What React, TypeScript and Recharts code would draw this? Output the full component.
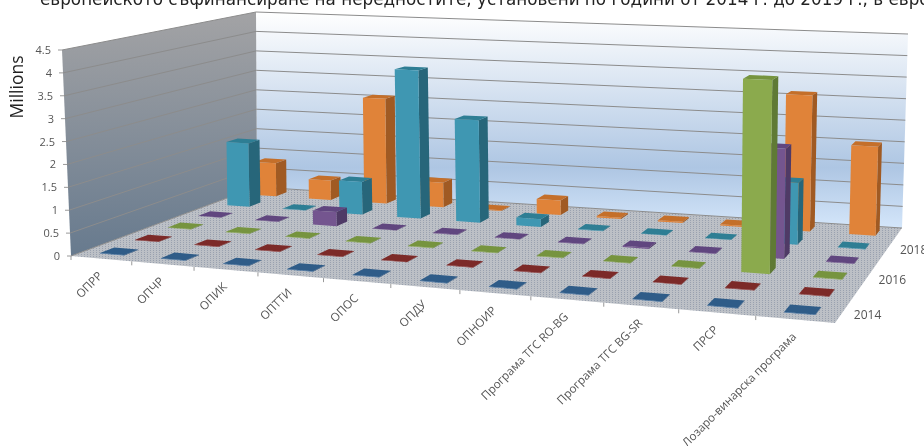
import { Label, Scatter, ScatterChart, XAxis, YAxis } from "recharts"

const WIDTH = 924
const HEIGHT = 446

const categories = [
  "ОПРР",
  "ОПЧР",
  "ОПИК",
  "ОПТТИ",
  "ОПОС",
  "ОПДУ",
  "ОПНОИР",
  "Програма ТГС RO-BG",
  "Програма ТГС BG-SR",
  "ПРСР",
  "Лозаро-винарска програма",
]
const years = [2014, 2016, 2018]
const valueTicks = [0, 0.5, 1, 1.5, 2, 2.5, 3, 3.5, 4, 4.5]

// millions of euro, one list per year (depth row)
const values2014 = [0.01, 0.01, 0.01, 0.01, 0.01, 0.01, 0.01, 0.01, 0.01, 0.01, 0.01]
const values2015 = [0.01, 0.01, 0.01, 0.01, 0.01, 0.01, 0.01, 0.01, 0.01, 0.01, 0.01]
const values2016 = [0.01, 0.01, 0.01, 0.01, 0.01, 0.01, 0.01, 0.01, 0.01, 4.08, 0.01]
const values2017 = [0.01, 0.01, 0.33, 0.01, 0.01, 0.01, 0.01, 0.03, 0.01, 2.39, 0.01]
const values2018 = [1.55, 0.01, 0.78, 3.52, 2.41, 0.18, 0.01, 0.01, 0.01, 1.38, 0.01]
const values2019 = [0.83, 0.48, 2.58, 0.6, 0.02, 0.35, 0.03, 0.03, 0.03, 3.13, 2.03]

const COLORS = {
  blue: ["#376A9E", "#2A5078", "#2F5C88"],
  red: ["#8E2F2D", "#6E2423", "#7C2A28"],
  green: ["#8BAA4D", "#5F7A35", "#76943F"],
  purple: ["#74558F", "#4F3A66", "#60467F"],
  teal: ["#3F97B2", "#27667A", "#2E7E94"],
  orange: ["#E08339", "#A05A23", "#C46F2A"],
}

// plot rectangle used by the library scales
const LEFT = 71
const RIGHT = 835
const TOP = 50
const BOTTOM = 256
const ROWS = 6
const BAR = 0.2
const SPREAD = 1.061

type Pt = [number, number]

// maps the unit square onto a screen quad
function quad(p00: Pt, p10: Pt, p11: Pt, p01: Pt) {
  const dx1 = p10[0] - p11[0]
  const dx2 = p01[0] - p11[0]
  const sx = p00[0] - p10[0] + p11[0] - p01[0]
  const dy1 = p10[1] - p11[1]
  const dy2 = p01[1] - p11[1]
  const sy = p00[1] - p10[1] + p11[1] - p01[1]
  const den = dx1 * dy2 - dx2 * dy1
  const g = (sx * dy2 - dx2 * sy) / den
  const h = (dx1 * sy - sx * dy1) / den
  const a = p10[0] - p00[0] + g * p10[0]
  const b = p01[0] - p00[0] + h * p01[0]
  const d = p10[1] - p00[1] + g * p10[1]
  const e = p01[1] - p00[1] + h * p01[1]
  return (s: number, t: number): Pt => {
    const w = g * s + h * t + 1
    return [(a * s + b * t + p00[0]) / w, (d * s + e * t + p00[1]) / w]
  }
}

const floorMap = quad([71, 256], [835, 323], [902, 228], [257, 187])
const topMap = quad([62, 50], [841, 88], [908, 34], [256, 12])

// s along categories, t along years, z up the value axis (all 0..1)
function project(s: number, t: number, z: number): Pt {
  const sw = (s * SPREAD) / (1 + (SPREAD - 1) * s)
  const a = floorMap(sw, t)
  const b = topMap(sw, t)
  return [a[0] + (b[0] - a[0]) * z, a[1] + (b[1] - a[1]) * z]
}

const toS = (cx: number) => (cx - LEFT) / (RIGHT - LEFT)
const toZ = (cy: number) => (BOTTOM - cy) / (BOTTOM - TOP)
const pts = (list: Pt[]) => list.map((p) => `${p[0].toFixed(1)},${p[1].toFixed(1)}`).join(" ")

const rows = (values: number[]) => values.map((value, i) => ({ pos: i + 0.5, value }))

function barShape(row: number, colors: string[]) {
  return (props: any) => {
    const s = toS(props.cx)
    const z = toZ(props.cy)
    const half = BAR / categories.length
    const s0 = s - half
    const s1 = s + half
    const t0 = (row + 0.5 - BAR) / ROWS
    const t1 = (row + 0.5 + BAR) / ROWS
    return (
      <g>
        <polygon
          points={pts([project(s1, t0, 0), project(s1, t1, 0), project(s1, t1, z), project(s1, t0, z)])}
          fill={colors[1]}
        />
        <polygon
          points={pts([project(s0, t0, z), project(s1, t0, z), project(s1, t1, z), project(s0, t1, z)])}
          fill={colors[2]}
        />
        <polygon
          points={pts([project(s0, t0, 0), project(s1, t0, 0), project(s1, t0, z), project(s0, t0, z)])}
          fill={colors[0]}
        />
      </g>
    )
  }
}

function wallsShape() {
  return (
    <g>
      <defs>
        <linearGradient id="backWall" x1="0" y1="0" x2="0" y2="1">
          <stop offset="0" stopColor="#FFFFFF" />
          <stop offset="0.72" stopColor="#AEC6E3" />
          <stop offset="1" stopColor="#D4E6FA" />
        </linearGradient>
        <linearGradient id="sideWall" x1="0" y1="0" x2="0" y2="1">
          <stop offset="0" stopColor="#A3A3A5" />
          <stop offset="1" stopColor="#677A8E" />
        </linearGradient>
        <pattern id="floorDots" width="3" height="2" patternUnits="userSpaceOnUse">
          <rect width="3" height="2" fill="#BCC0C6" />
          <rect width="1" height="1" fill="#99A1AF" />
        </pattern>
      </defs>
      <polygon
        points={pts([project(0, 1, 0), project(1, 1, 0), project(1, 1, 1), project(0, 1, 1)])}
        fill="url(#backWall)"
      />
      <polygon
        points={pts([project(0, 0, 0), project(0, 1, 0), project(0, 1, 1), project(0, 0, 1)])}
        fill="url(#sideWall)"
      />
      <polygon
        points={pts([project(0, 0, 0), project(1, 0, 0), project(1, 1, 0), project(0, 1, 0)])}
        fill="url(#floorDots)"
      />
    </g>
  )
}

function gridShape(props: any) {
  const z = toZ(props.cy)
  return (
    <polyline
      points={pts([project(0, 0, z), project(0, 1, z), project(1, 1, z)])}
      fill="none"
      stroke="#8C8C8C"
      strokeWidth={1}
    />
  )
}

function CategoryTick(props: any) {
  const { x, payload } = props
  const s = toS(x)
  const [ex, ey] = project(s, 0, 0)
  const left = project(s - 0.5 / categories.length, 0, 0)
  const tx = ex + 2
  const ty = ey + 18
  return (
    <g>
      <line x1={left[0]} y1={left[1]} x2={left[0]} y2={left[1] + 4} stroke="#999" />
      <text
        x={tx}
        y={ty}
        textAnchor="end"
        fontSize={11.6}
        fontFamily="Open Sans"
        fill="#555"
        transform={`rotate(-45 ${tx} ${ty})`}
      >
        {categories[Math.floor(payload.value)]}
      </text>
    </g>
  )
}

function ValueTick(props: any) {
  const { y, payload } = props
  const [ex] = project(0, 0, toZ(y))
  return (
    <g>
      <line x1={ex - 4} y1={y} x2={ex} y2={y} stroke="#999" />
      <text x={ex - 11} y={y + 4} textAnchor="end" fontSize={11} fontFamily="Open Sans" fill="#555">
        {payload.value}
      </text>
    </g>
  )
}

function yearShape(props: any) {
  const t = (props.payload.row + 0.5) / ROWS
  const [ex, ey] = project(1, t, 0)
  return (
    <text x={ex + 12} y={ey + 6} fontSize={12} fontFamily="Open Sans" fill="#555">
      {props.payload.year}
    </text>
  )
}

const yearRows = years.map((year, i) => ({ pos: 11, value: 0, year, row: i * 2 }))

export default function App() {
  return (
    <div style={{ position: "absolute", left: 0, top: 0, width: WIDTH, height: HEIGHT, overflow: "hidden", filter: "blur(0.7px)" }}>
      <div
        style={{
          position: "absolute",
          left: 40,
          top: -11,
          whiteSpace: "nowrap",
          fontFamily: "DejaVu Sans",
          fontSize: 16.8,
          color: "#222",
        }}
      >
        европейското съфинансиране на нередностите, установени по години от 2014 г. до 2019 г., в евро
      </div>
      <ScatterChart width={WIDTH} height={HEIGHT} margin={{ left: 41, right: WIDTH - RIGHT, top: TOP, bottom: 0 }}>
        <XAxis
          type="number"
          dataKey="pos"
          domain={[0, categories.length]}
          ticks={categories.map((_, i) => i + 0.5)}
          height={HEIGHT - BOTTOM}
          axisLine={false}
          tickLine={false}
          tick={CategoryTick}
          interval={0}
        />
        <YAxis
          type="number"
          dataKey="value"
          domain={[0, 4.5]}
          ticks={valueTicks}
          width={30}
          axisLine={false}
          tickLine={false}
          tick={ValueTick}
          interval={0}
        >
          <Label
            value="Millions"
            angle={-90}
            position="insideTopLeft"
            dx={-35}
            dy={32}
            style={{ fontFamily: "Open Sans", fontSize: 17.5, fill: "#222", textAnchor: "middle" }}
          />
        </YAxis>
        <Scatter data={[{ pos: 0, value: 0 }]} shape={wallsShape} isAnimationActive={false} />
        <Scatter data={valueTicks.map((value) => ({ pos: 0, value }))} shape={gridShape} isAnimationActive={false} />
        <Scatter data={rows(values2019)} shape={barShape(5, COLORS.orange)} isAnimationActive={false} />
        <Scatter data={rows(values2018)} shape={barShape(4, COLORS.teal)} isAnimationActive={false} />
        <Scatter data={rows(values2017)} shape={barShape(3, COLORS.purple)} isAnimationActive={false} />
        <Scatter data={rows(values2016)} shape={barShape(2, COLORS.green)} isAnimationActive={false} />
        <Scatter data={rows(values2015)} shape={barShape(1, COLORS.red)} isAnimationActive={false} />
        <Scatter data={rows(values2014)} shape={barShape(0, COLORS.blue)} isAnimationActive={false} />
        <Scatter data={yearRows} shape={yearShape} isAnimationActive={false} />
      </ScatterChart>
    </div>
  )
}
